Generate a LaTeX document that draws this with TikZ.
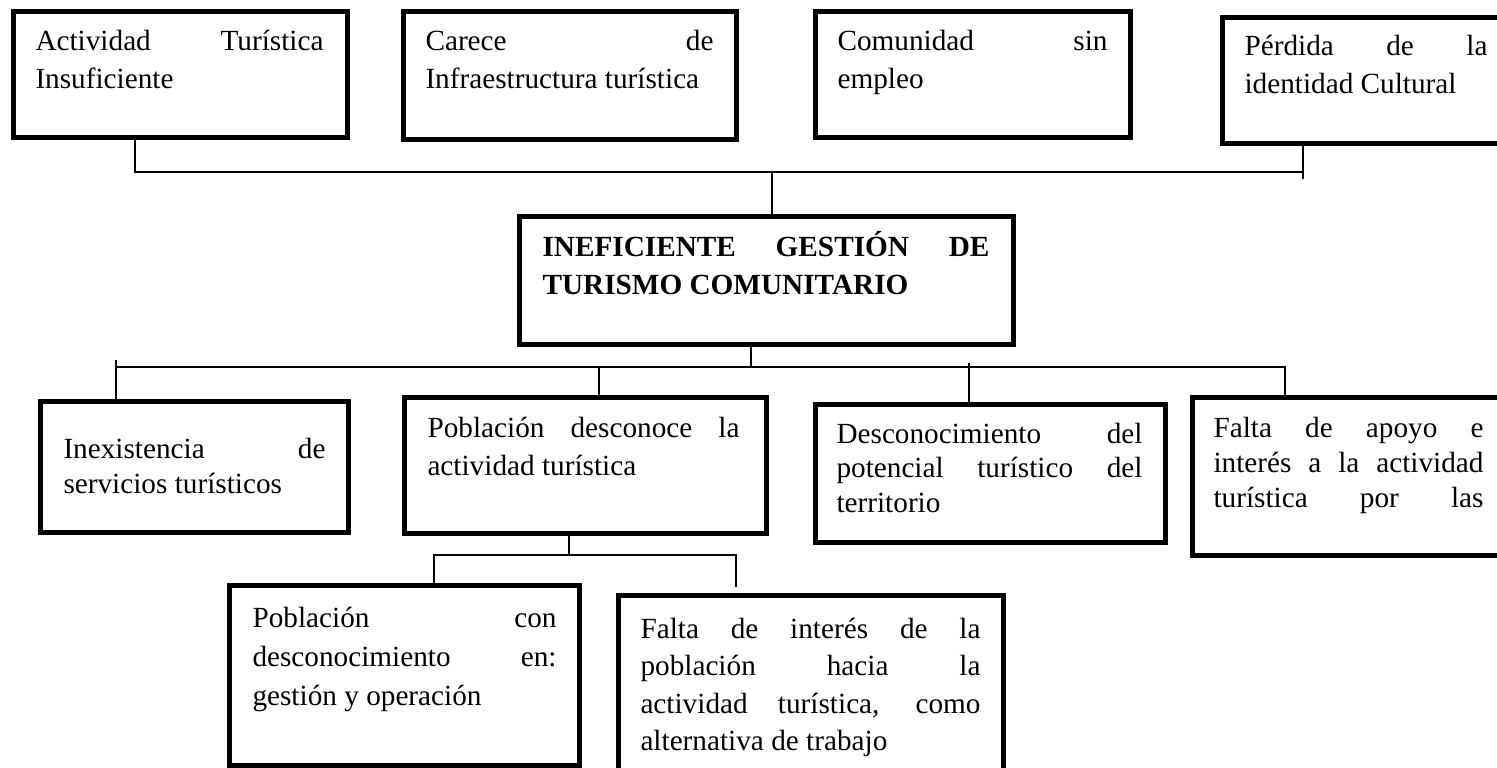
\documentclass[tikz,border=0pt]{standalone}
\usepackage{fontspec}
\setmainfont{Liberation Serif}
\usetikzlibrary{positioning, fit}

\newcommand{\ajuste}{\hyphenpenalty=10000 \exhyphenpenalty=10000 \tolerance=10000 \hbadness=10000 \relax}

\tikzset{
  caja/.style={draw, line width=2pt, inner sep=0pt},
  texto/.style={anchor=base west, inner sep=0pt, align=justify,
    font=\fontsize{11.7pt}{#1}\selectfont\ajuste, execute at begin node=\ajuste},
  texto/.default=15.2pt,
  conector/.style={line width=0.8pt}
}

\begin{document}
\begin{tikzpicture}[x=0.4pt, y=-0.4pt]
\useasboundingbox (0,0) rectangle (1497,767);
\clip (0,0) rectangle (1497,767);

\node[caja, fit={(13,11) (347,137)}] (efecto1) {};
\node[caja, fit={(403,11) (736,139)}] (efecto2) {};
\node[caja, fit={(815,11) (1130,137)}] (efecto3) {};
\node[caja, fit={(1222,17) (1505,143)}] (efecto4) {};
\node[texto, text width=115.2pt] (tefecto1) at (35,50) {Actividad Turística\linebreak Insuficiente};
\node[texto, text width=115.2pt] (tefecto2) at (425,50) {Carece de\linebreak Infraestructura turística};
\node[texto, text width=108pt] (tefecto3) at (837,50) {Comunidad sin\linebreak empleo};
\node[texto, text width=97.2pt] (tefecto4) at (1244,55) {Pérdida de la\linebreak identidad Cultural};

\node[caja, fit={(519,216) (1013,344)}] (problema) {};
\node[texto, font=\fontsize{11.7pt}{15.2pt}\selectfont\bfseries\ajuste, text width=178.8pt] (tproblema) at (542,256) {INEFICIENTE GESTIÓN DE\linebreak TURISMO COMUNITARIO};

\node[caja, fit={(40,401) (348,532)}] (causa1) {};
\node[caja, fit={(404,397) (766,533)}] (causa2) {};
\node[caja, fit={(815,404) (1165,542)}] (causa3) {};
\node[caja, fit={(1192,397) (1505,555)}] (causa4) {};
\node[texto=14pt, text width=104.8pt] (tcausa1) at (63,458) {Inexistencia de\linebreak servicios turísticos};
\node[texto, text width=124.8pt] (tcausa2) at (427,437) {Población desconoce la\linebreak actividad turística};
\node[texto=13.8pt, text width=122.4pt] (tcausa3) at (836,443) {Desconocimiento del\linebreak potencial turístico del\linebreak territorio};
\node[texto=14pt, text width=108pt] (tcausa4) at (1213,437) {Falta de apoyo e\linebreak interés a la actividad\linebreak turística\hspace{\fill}por\hspace{\fill}las};

\node[caja, fit={(229,585) (579,765)}] (subcausa1) {};
\node[caja, fit={(618,595) (1003,780)}] (subcausa2) {};
\node[texto=15.6pt, text width=121.6pt] (tsubcausa1) at (252,627) {Población con\linebreak desconocimiento en:\linebreak gestión y operación};
\node[texto=15pt, text width=136pt] (tsubcausa2) at (640,638) {Falta de interés de la\linebreak población hacia la\linebreak actividad turística, como\linebreak alternativa de trabajo};

\coordinate (ramaE) at (772,172);
\draw[conector] (efecto1.south -| 135,0) |- (ramaE) -| (efecto4.south -| 1303,0);
\draw[conector] (efecto4.south -| 1303,0) -- ++(0,33);
\draw[conector] (ramaE) -- (problema.north -| ramaE);

\coordinate (ramaC) at (751,367);
\draw[conector] (problema.south -| ramaC) -- (ramaC);
\draw[conector] (causa1.north -| 116,0) |- (ramaC) -| (causa4.north -| 1285,0);
\draw[conector] (causa1.north -| 116,0) -- ++(0,-39);
\draw[conector] (ramaC -| 599,0) -- (causa2.north -| 599,0);
\draw[conector] (ramaC -| 969,0) ++(0,-4) -- (causa3.north -| 969,0);

\coordinate (ramaS) at (569,555);
\coordinate (finS) at (736,587);
\draw[conector] (causa2.south -| ramaS) -- (ramaS);
\draw[conector] (subcausa1.north -| 434,0) |- (ramaS) -| (finS);
\end{tikzpicture}
\end{document}
